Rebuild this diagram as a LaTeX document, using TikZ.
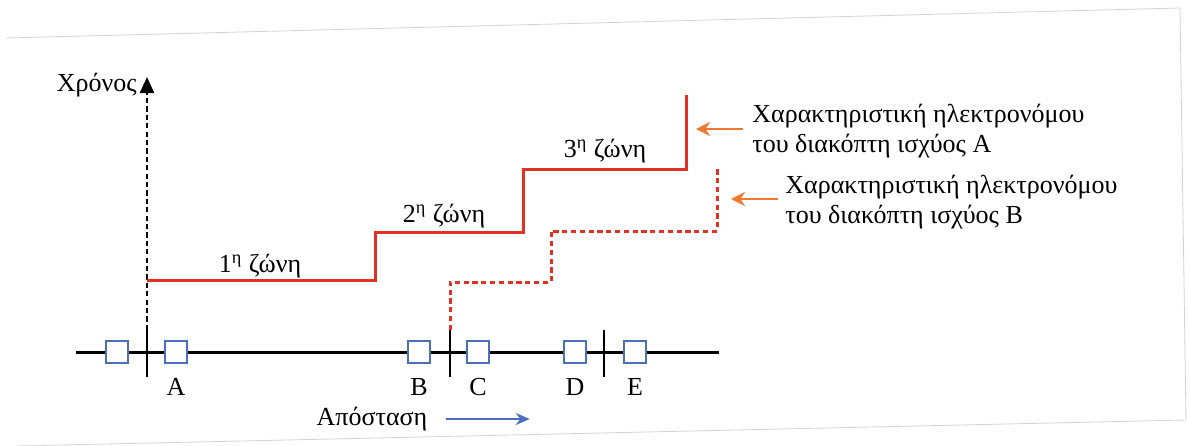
\documentclass[tikz,border=0pt]{standalone}
\usepackage{fontspec}
\setmainfont{Liberation Serif}
\usetikzlibrary{positioning,arrows.meta}
\definecolor{relayred}{RGB}{224,50,36}
\definecolor{ptrorange}{RGB}{242,120,48}
\definecolor{cbblue}{RGB}{74,112,188}
\begin{document}
\begin{tikzpicture}[
    x=0.5pt, y=-0.5pt,
    lbl/.style={font=\fontsize{13}{15}\selectfont, inner sep=0pt},
    cb/.style={draw=cbblue, line width=1pt, fill=white, minimum size=11pt, inner sep=0pt},
    tick/.style={line width=1.1pt},
    charA/.style={draw=relayred, line width=1.5pt},
    charB/.style={charA, dash pattern=on 2.6pt off 1.8pt},
    pointer/.style={draw=ptrorange, line width=1.3pt, -{Stealth[length=7pt,width=7pt]}},
    >=stealth
]
\useasboundingbox (0,0) rectangle (1190,445);

% scanned page edge
\draw[gray!35, line width=0.4pt] (6,38) -- (1180,8) -- (1186,420) -- (16,446);

% Busbar and breakers
\coordinate (busL) at (76,352);
\coordinate (busR) at (719,352);
\draw[line width=1.5pt] (busL) -- (busR);

\coordinate (tA) at (147,352);
\coordinate (tB) at (450,352);
\coordinate (tD) at (604,352);
\foreach \t in {tA,tB,tD}
    \draw[tick] ([yshift=11pt]\t) -- ([yshift=-12.5pt]\t);

\node[cb] (cb0) at (117,352) {};
\node[cb] (cbA) at (176,352) {};
\node[cb] (cbB) at (419,352) {};
\node[cb] (cbC) at (478,352) {};
\node[cb] (cbD) at (575,352) {};
\node[cb] (cbE) at (635,352) {};

\foreach \n in {A,B,C,D,E}
    \node[lbl, anchor=north] (lab\n) at ([yshift=-7pt]cb\n.south) {\n};

% Distance
\node[lbl] (dist) at (372,419) {Απόσταση};
\draw[cbblue, line width=1.2pt, -{Stealth[length=7pt,width=6pt]}]
    ([xshift=9pt]dist.east) -- ++(84,0) coordinate (distEnd);

% Time axis
\coordinate (axTop) at (147,77);
\draw[line width=1.2pt, dash pattern=on 2.6pt off 1.6pt, -{Triangle[length=8pt,width=7pt]}]
    ([yshift=11pt]tA) -- (axTop);
\node[lbl, anchor=east] (time) at ([xshift=-5pt,yshift=-4pt]axTop) {Χρόνος};

% Characteristic of breaker A
\coordinate (a0) at (147,280);
\coordinate (a1) at (375,232);
\coordinate (a2) at (523,169);
\coordinate (aTop) at (686,95);
\draw[charA] (a0) -| (a1) -| (a2) -| (aTop);

% Characteristic of breaker B
\coordinate (b0) at (450,330);
\coordinate (b1) at (551,282);
\coordinate (b2) at (717,231);
\coordinate (bTop) at (717,169);
\draw[charB] (b0) |- (b1) |- (b2) -- (bTop);

% Zones
\node[lbl] (z1) at (260,266) {1\textsuperscript{η} ζώνη};
\node[lbl] (z2) at (444,216) {2\textsuperscript{η} ζώνη};
\node[lbl] (z3) at (605,151) {3\textsuperscript{η} ζώνη};

% Legends
\node[lbl, anchor=west, align=left] (legA) at (752,131)
    {Χαρακτηριστική ηλεκτρονόμου\\του διακόπτη ισχύος Α};
\node[lbl, anchor=west, align=left] (legB) at (785,202)
    {Χαρακτηριστική ηλεκτρονόμου\\του διακόπτη ισχύος Β};

\draw[pointer] (743,129) -- ([xshift=5pt]aTop |- 0,129);
\draw[pointer] (778,199) -- ([xshift=7pt]bTop |- 0,199);
\end{tikzpicture}
\end{document}
